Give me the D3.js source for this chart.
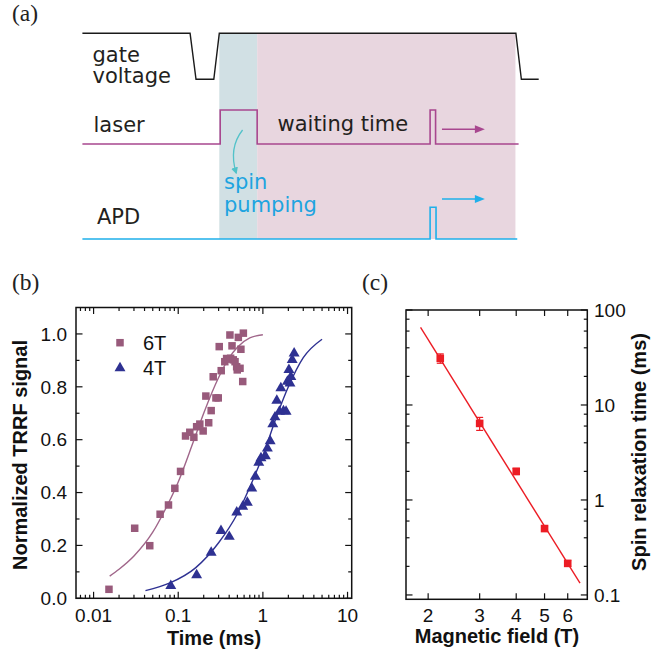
<!DOCTYPE html>
<html>
<head>
<meta charset="utf-8">
<script src="https://cdn.jsdelivr.net/npm/d3@7"></script>
<style>
  body { margin: 0; background: #fff; }
  svg { display: block; }
</style>
</head>
<body>
<script>
// ---------- data ----------
// (a) timing diagram: [time (arb. units 0..100), level 0/1]
const gateSignal = [[0, 1], [23.6, 1], [24.9, 0], [28.8, 0], [30.0, 1], [95.0, 1], [96.2, 0], [100, 0]];
const laserSignal = [[0, 0], [30.2, 0], [30.2, 1], [38.3, 1], [38.3, 0], [76.2, 0], [76.2, 1], [77.4, 1], [77.4, 0], [95.6, 0]];
const apdSignal = [[0, 0], [76.2, 0], [76.2, 1], [77.5, 1], [77.5, 0], [95.3, 0]];
const pumpWindow = [30.0, 38.3];
const waitWindow = [38.3, 94.9];
const arrowSpan = [78.8, 88.2];

// (b) normalized TRRF signal vs time (ms)
const time6T = [0.0152, 0.0306, 0.0461, 0.0611, 0.0767, 0.0912, 0.1065, 0.122, 0.137, 0.153, 0.165, 0.180, 0.197,
  0.212, 0.229, 0.245, 0.259, 0.279, 0.297, 0.305, 0.322, 0.355, 0.373, 0.390, 0.408, 0.416, 0.432, 0.447, 0.469,
  0.490, 0.498, 0.513, 0.537, 0.550, 0.578, 0.588];
const signal6T = [0.034, 0.265, 0.199, 0.318, 0.353, 0.416, 0.480, 0.614, 0.628, 0.609, 0.649, 0.659, 0.633,
  0.765, 0.664, 0.710, 0.838, 0.758, 0.758, 0.952, 0.861, 0.895, 0.907, 0.905, 0.996, 0.908, 0.955, 0.902, 0.895,
  0.876, 0.864, 0.987, 0.870, 0.942, 0.820, 1.003];
const time4T = [0.0817, 0.165, 0.245, 0.320, 0.401, 0.491, 0.578, 0.655, 0.739, 0.815, 0.894, 0.95, 1.07, 1.13,
  1.22, 1.31, 1.39, 1.46, 1.57, 1.63, 1.75, 1.88, 1.95, 2.03, 2.09, 2.14, 2.22, 2.34];
const signal4T = [0.047, 0.088, 0.173, 0.255, 0.233, 0.325, 0.347, 0.362, 0.416, 0.46, 0.513, 0.53, 0.538, 0.567,
  0.595, 0.659, 0.685, 0.748, 0.706, 0.795, 0.708, 0.706, 0.82, 0.864, 0.813, 0.838, 0.902, 0.927];
const fitTime6T = [0.0155, 0.02, 0.03, 0.05, 0.07, 0.1, 0.15, 0.2, 0.3, 0.4, 0.5, 0.7, 1.0];
const fitSignal6T = [0.084, 0.11, 0.16, 0.25, 0.335, 0.44, 0.59, 0.70, 0.835, 0.91, 0.95, 0.985, 0.997];
const fitTime4T = [0.041, 0.08, 0.16, 0.3, 0.5, 0.7, 1.0, 1.5, 2.0, 3.0, 5.0];
const fitSignal4T = [0.029, 0.058, 0.115, 0.21, 0.32, 0.42, 0.54, 0.70, 0.80, 0.91, 0.98];
const timeTicks = [0.01, 0.1, 1, 10];
const timeTickLabels = ["0.01", "0.1", "1", "10"];
const signalTicks = [0, 0.2, 0.4, 0.6, 0.8, 1.0];

// (c) spin relaxation time vs magnetic field
const fieldT = [2.2, 3, 4, 5, 6];
const relaxMs = [31.0, 6.4, 2.0, 0.50, 0.215];
const relaxErr = [3.5, 1.0, 0.15, 0.03, 0.015];
const fitField = [1.884, 6.61];
const fitRelax = [65.8, 0.133];
const fieldTicks = [2, 3, 4, 5, 6];
const relaxTicks = [0.1, 1, 10, 100];
const relaxTickLabels = ["0.1", "1", "10", "100"];

// ---------- setup ----------
const width = 672, height = 655;
const sans = "'Liberation Sans', Arial, sans-serif";

const svg = d3.select("body").append("svg")
  .attr("width", width)
  .attr("height", height);

svg.append("rect").attr("width", width).attr("height", height).attr("fill", "#fff");

// panel letters
[["(a)", 12, 21], ["(b)", 12, 290], ["(c)", 362, 290]].forEach(([t, x, y]) => {
  svg.append("text").attr("x", x).attr("y", y)
    .style("font-family", "'Liberation Serif', 'Times New Roman', serif")
    .style("font-size", "23.5px").attr("fill", "#222").text(t);
});

// ---------- (a) ----------
const xA = d3.scaleLinear().domain([0, 100]).range([82.4, 538.7]);
const shadeTop = 33.3, shadeBottom = 239;

svg.append("rect")
  .attr("x", xA(pumpWindow[0])).attr("y", shadeTop)
  .attr("width", xA(pumpWindow[1]) - xA(pumpWindow[0])).attr("height", shadeBottom - shadeTop)
  .attr("fill", "#d1e0e4");
svg.append("rect")
  .attr("x", xA(waitWindow[0])).attr("y", shadeTop)
  .attr("width", xA(waitWindow[1]) - xA(waitWindow[0])).attr("height", shadeBottom - shadeTop)
  .attr("fill", "#e8d6df");

const laserColor = "#a8478f", apdColor = "#1fb0ea";
const rows = [
  { sig: gateSignal, y: d3.scaleLinear().domain([0, 1]).range([79.3, 33.3]), color: "#1a1a1a", w: 1.4 },
  { sig: laserSignal, y: d3.scaleLinear().domain([0, 1]).range([144, 110]), color: laserColor, w: 1.6 },
  { sig: apdSignal, y: d3.scaleLinear().domain([0, 1]).range([239, 207.3]), color: apdColor, w: 1.6 }
];

rows.forEach((r) => {
  const line = d3.line().x((d) => xA(d[0])).y((d) => r.y(d[1]));
  svg.append("path")
    .attr("d", line(r.sig))
    .attr("fill", "none")
    .attr("stroke", r.color)
    .attr("stroke-width", r.w);
});

// straight arrows to the right
function hArrow(y, color) {
  const x0 = xA(arrowSpan[0]), x1 = xA(arrowSpan[1]);
  svg.append("line").attr("x1", x0).attr("x2", x1 - 6).attr("y1", y).attr("y2", y)
    .attr("stroke", color).attr("stroke-width", 1.5);
  svg.append("path")
    .attr("d", `M${x1},${y}L${x1 - 10},${y - 4}L${x1 - 10},${y + 4}Z`)
    .attr("fill", color);
}
hArrow(129.3, laserColor);
hArrow(199, apdColor);

// curved "spin pumping" arrow
const curveColor = "#52c2c9";
svg.append("defs").append("marker")
  .attr("id", "headC")
  .attr("viewBox", "0 0 10 10")
  .attr("refX", 8).attr("refY", 5)
  .attr("markerWidth", 7).attr("markerHeight", 7)
  .attr("markerUnits", "userSpaceOnUse")
  .attr("orient", "auto")
  .append("path").attr("d", "M0,0L10,5L0,10Z").attr("fill", curveColor);

svg.append("path")
  .attr("d", `M${xA(35.1)},130 Q${xA(32.0)},148 ${xA(33.7)},173`)
  .attr("fill", "none")
  .attr("stroke", curveColor)
  .attr("stroke-width", 1.3)
  .attr("marker-end", "url(#headC)");

const labelA = (t, x, y, color) =>
  svg.append("text").attr("x", x).attr("y", y)
    .style("font-family", "'DejaVu Sans', sans-serif")
    .style("font-size", "21px")
    .attr("fill", color || "#231f20")
    .text(t);

labelA("gate", 92.5, 61.5);
labelA("voltage", 92.5, 82.5);
labelA("laser", 93.5, 132);
labelA("waiting time", 277.5, 131);
labelA("spin", 224, 189, "#1ea4e0");
labelA("pumping", 224, 212, "#1ea4e0");
labelA("APD", 97, 223.5);

// ---------- shared helpers ----------
function frame(x0, x1, y0, y1) {
  svg.append("rect")
    .attr("x", x0).attr("y", y0)
    .attr("width", x1 - x0).attr("height", y1 - y0)
    .attr("fill", "none").attr("stroke", "#111").attr("stroke-width", 1.5);
}

// inward ticks on both horizontal edges
function xTicks(scale, values, len, y0, y1) {
  values.forEach((v) => {
    const x = scale(v);
    svg.append("line").attr("x1", x).attr("x2", x).attr("y1", y1).attr("y2", y1 - len)
      .attr("stroke", "#111").attr("stroke-width", 1.2);
    svg.append("line").attr("x1", x).attr("x2", x).attr("y1", y0).attr("y2", y0 + len)
      .attr("stroke", "#111").attr("stroke-width", 1.2);
  });
}
// inward ticks on both vertical edges
function yTicks(scale, values, len, x0, x1) {
  values.forEach((v) => {
    const y = scale(v);
    svg.append("line").attr("x1", x0).attr("x2", x0 + len).attr("y1", y).attr("y2", y)
      .attr("stroke", "#111").attr("stroke-width", 1.2);
    svg.append("line").attr("x1", x1).attr("x2", x1 - len).attr("y1", y).attr("y2", y)
      .attr("stroke", "#111").attr("stroke-width", 1.2);
  });
}

const tickText = (t, x, y, anchor) =>
  svg.append("text").attr("x", x).attr("y", y)
    .attr("text-anchor", anchor)
    .style("font-family", sans).style("font-size", "19px")
    .attr("fill", "#111").text(t);

const axisTitle = (t, x, y, rotate) =>
  svg.append("text")
    .attr("transform", `translate(${x},${y})` + (rotate ? " rotate(-90)" : ""))
    .attr("text-anchor", "middle")
    .style("font-family", sans).style("font-size", "20px").style("font-weight", "bold")
    .attr("fill", "#111").text(t);

// ---------- (b) ----------
const bL = 76, bR = 351.7, bT = 307.5, bB = 598.3;
const xB = d3.scaleLog().domain([0.0062, 11.2]).range([bL, bR]);
const yB = d3.scaleLinear().domain([0, 1.1]).range([bB, bT]);

const minorTime = xB.ticks().filter((v) => !timeTicks.includes(v));
xTicks(xB, minorTime, 3.5, bT, bB);
xTicks(xB, timeTicks, 6.5, bT, bB);
const minorSignal = d3.range(0.1, 1.1, 0.2);
yTicks(yB, minorSignal, 3.5, bL, bR);
yTicks(yB, signalTicks, 6.5, bL, bR);

const color6T = "#985a7b", color4T = "#2e3192";

const fitLineB = d3.line().x((d) => xB(d[0])).y((d) => yB(d[1])).curve(d3.curveMonotoneX);
svg.append("path")
  .attr("d", fitLineB(d3.zip(fitTime6T, fitSignal6T)))
  .attr("fill", "none").attr("stroke", "#a0668a").attr("stroke-width", 1.4);
svg.append("path")
  .attr("d", fitLineB(d3.zip(fitTime4T, fitSignal4T)))
  .attr("fill", "none").attr("stroke", color4T).attr("stroke-width", 1.4);

const sq = 7.5;
svg.append("g").selectAll("rect")
  .data(d3.zip(time6T, signal6T))
  .join("rect")
  .attr("x", (d) => xB(d[0]) - sq / 2)
  .attr("y", (d) => yB(d[1]) - sq / 2)
  .attr("width", sq).attr("height", sq)
  .attr("fill", color6T);

const tri = d3.symbol().type(d3.symbolTriangle).size(52);
svg.append("g").selectAll("path")
  .data(d3.zip(time4T, signal4T))
  .join("path")
  .attr("transform", (d) => `translate(${xB(d[0])},${yB(d[1])})`)
  .attr("d", tri)
  .attr("fill", color4T);

frame(bL, bR, bT, bB);

timeTicks.forEach((v, i) => tickText(timeTickLabels[i], xB(v), 621.5, "middle"));
signalTicks.forEach((v) => tickText(d3.format(".1f")(v), 67, yB(v) + 6.8, "end"));

// legend
svg.append("rect").attr("x", 120 - sq / 2).attr("y", 342.7 - sq / 2)
  .attr("width", sq).attr("height", sq).attr("fill", color6T);
svg.append("path").attr("transform", "translate(120,368)").attr("d", tri).attr("fill", color4T);
tickText("6T", 143, 350, "start").style("font-size", "20px");
tickText("4T", 143, 375, "start").style("font-size", "20px");

axisTitle("Time (ms)", 214, 645, false);
axisTitle("Normalized TRRF signal", 26.5, 455, true);

// ---------- (c) ----------
const cL = 406, cR = 587.3, cT = 310, cB = 599.3;
const xC = d3.scaleLog().domain([1.68, 7.0]).range([cL, cR]);
const yC = d3.scaleLog().domain([0.09, 100]).range([cB, cT]);

xTicks(xC, fieldTicks, 6, cT, cB);
const minorRelax = yC.ticks().filter((v) => {
  const m = Math.round(v / Math.pow(10, Math.floor(Math.log10(v))));
  return [2, 4, 6, 8].includes(m);
});
yTicks(yC, minorRelax, 3.5, cL, cR);
yTicks(yC, relaxTicks, 6.5, cL, cR);

const redC = "#ec1c24";
const fitLineC = d3.line().x((d) => xC(d[0])).y((d) => yC(d[1]));
svg.append("path")
  .attr("d", fitLineC(d3.zip(fitField, fitRelax)))
  .attr("fill", "none").attr("stroke", redC).attr("stroke-width", 1.4);

const pts = d3.zip(fieldT, relaxMs, relaxErr);
const eb = svg.append("g").attr("stroke", redC).attr("stroke-width", 1.2);
pts.forEach(([b, t, e]) => {
  const x = xC(b), ya = yC(t + e), yb = yC(t - e);
  eb.append("line").attr("x1", x).attr("x2", x).attr("y1", ya).attr("y2", yb);
  eb.append("line").attr("x1", x - 3.5).attr("x2", x + 3.5).attr("y1", ya).attr("y2", ya);
  eb.append("line").attr("x1", x - 3.5).attr("x2", x + 3.5).attr("y1", yb).attr("y2", yb);
});
svg.append("g").selectAll("rect")
  .data(pts)
  .join("rect")
  .attr("x", (d) => xC(d[0]) - 3.8)
  .attr("y", (d) => yC(d[1]) - 3.8)
  .attr("width", 7.6).attr("height", 7.6)
  .attr("fill", redC);

frame(cL, cR, cT, cB);

fieldTicks.forEach((v) => tickText(String(v), xC(v), 622, "middle"));
relaxTicks.forEach((v, i) => tickText(relaxTickLabels[i], 594, yC(v) + 6.8, "start"));

axisTitle("Magnetic field (T)", 497, 643, false);
axisTitle("Spin relaxation time (ms)", 646, 452, true);
</script>
</body>
</html>
